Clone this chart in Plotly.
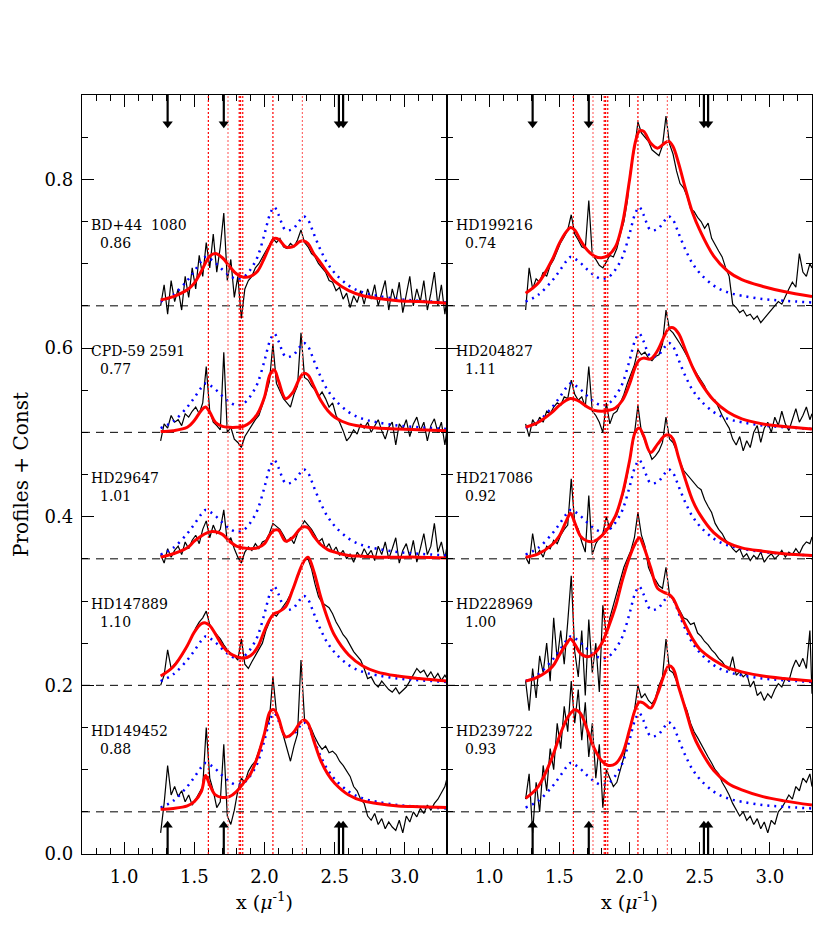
import plotly.graph_objects as go

# x grid of the smooth curves (inverse micron)
x_fit = [1.26, 1.35, 1.45, 1.50, 1.55, 1.58, 1.61, 1.65, 1.70, 1.75, 1.80,
         1.85, 1.90, 1.95, 2.00, 2.04, 2.07, 2.10, 2.15, 2.20, 2.25, 2.28,
         2.31, 2.35, 2.40, 2.45, 2.50, 2.60, 2.70, 2.80, 2.95, 3.10, 3.30]

# x grid of the observed profiles
x_obs = [1.260, 1.285, 1.310, 1.335, 1.360, 1.385, 1.410, 1.435, 1.460, 1.485,
         1.510, 1.535, 1.560, 1.585, 1.610, 1.635, 1.660, 1.685, 1.710, 1.735,
         1.760, 1.785, 1.810, 1.835, 1.860, 1.885, 1.910, 1.935, 1.960, 1.985,
         2.010, 2.035, 2.060, 2.085, 2.110, 2.135, 2.160, 2.185, 2.210, 2.235,
         2.260, 2.285, 2.310, 2.335, 2.360, 2.385, 2.410, 2.435, 2.460, 2.485,
         2.510, 2.535, 2.560, 2.585, 2.610, 2.635, 2.660, 2.685, 2.710, 2.735,
         2.760, 2.785, 2.810, 2.835, 2.860, 2.885, 2.910, 2.935, 2.960, 2.985,
         3.010, 3.035, 3.060, 3.085, 3.110, 3.135, 3.160, 3.185, 3.210, 3.235,
         3.260, 3.285, 3.300]

offsets = [0.65, 0.50, 0.35, 0.20, 0.05]

left_names = ["BD+44\u00a0 1080", "CPD-59 2591", "HD29647", "HD147889", "HD149452"]
left_values = ["0.86", "0.77", "1.01", "1.10", "0.88"]
right_names = ["HD199216", "HD204827", "HD217086", "HD228969", "HD239722"]
right_values = ["0.74", "1.11", "0.92", "1.00", "0.93"]

# blue dotted: mean profile, same in every box
avg_profile = [0.005, 0.013, 0.030, 0.041, 0.053, 0.058, 0.056, 0.051, 0.043, 0.036, 0.032,
               0.034, 0.043, 0.058, 0.085, 0.109, 0.117, 0.108, 0.090, 0.091, 0.101, 0.106,
               0.102, 0.086, 0.066, 0.050, 0.039, 0.024, 0.016, 0.012, 0.008, 0.006, 0.004]

# red fits
fit_bd44 = [0.007, 0.011, 0.019, 0.027, 0.041, 0.051, 0.059, 0.062, 0.057, 0.047, 0.038,
            0.034, 0.035, 0.041, 0.057, 0.072, 0.080, 0.079, 0.070, 0.070, 0.076, 0.077,
            0.074, 0.062, 0.051, 0.039, 0.029, 0.018, 0.012, 0.009, 0.006, 0.005, 0.003]
fit_cpd59 = [0.001, 0.002, 0.006, 0.014, 0.026, 0.030, 0.024, 0.012, 0.007, 0.006, 0.006,
             0.007, 0.012, 0.022, 0.042, 0.069, 0.074, 0.061, 0.040, 0.047, 0.064, 0.070,
             0.068, 0.055, 0.038, 0.026, 0.018, 0.010, 0.007, 0.005, 0.004, 0.003, 0.002]
fit_hd29647 = [0.002, 0.006, 0.013, 0.021, 0.027, 0.030, 0.032, 0.032, 0.029, 0.021, 0.015,
               0.013, 0.012, 0.013, 0.018, 0.029, 0.034, 0.034, 0.021, 0.025, 0.035, 0.038,
               0.037, 0.027, 0.017, 0.011, 0.008, 0.004, 0.003, 0.002, 0.002, 0.002, 0.001]
fit_hd147889 = [0.011, 0.022, 0.047, 0.063, 0.073, 0.074, 0.071, 0.061, 0.047, 0.038, 0.034,
                0.032, 0.035, 0.045, 0.065, 0.079, 0.085, 0.087, 0.093, 0.113, 0.136, 0.147,
                0.152, 0.136, 0.105, 0.079, 0.059, 0.036, 0.023, 0.016, 0.011, 0.008, 0.005]
fit_hd149452 = [0.003, 0.004, 0.007, 0.012, 0.024, 0.043, 0.032, 0.020, 0.017, 0.018, 0.024,
                0.034, 0.045, 0.065, 0.093, 0.119, 0.121, 0.111, 0.089, 0.093, 0.105, 0.109,
                0.105, 0.085, 0.061, 0.045, 0.034, 0.020, 0.013, 0.010, 0.007, 0.006, 0.005]
fit_hd199216 = [0.015, 0.027, 0.055, 0.074, 0.088, 0.093, 0.090, 0.078, 0.066, 0.059, 0.057,
                0.060, 0.070, 0.098, 0.149, 0.193, 0.207, 0.207, 0.193, 0.187, 0.193, 0.195,
                0.189, 0.169, 0.138, 0.110, 0.090, 0.059, 0.041, 0.031, 0.023, 0.017, 0.011]
fit_hd204827 = [0.006, 0.012, 0.024, 0.032, 0.038, 0.040, 0.039, 0.036, 0.030, 0.026, 0.025,
                0.026, 0.029, 0.038, 0.057, 0.077, 0.086, 0.088, 0.087, 0.097, 0.115, 0.123,
                0.124, 0.117, 0.097, 0.077, 0.061, 0.038, 0.024, 0.016, 0.010, 0.007, 0.004]
fit_hd217086 = [0.002, 0.006, 0.017, 0.027, 0.045, 0.054, 0.043, 0.027, 0.021, 0.021, 0.027,
                0.037, 0.051, 0.077, 0.116, 0.150, 0.155, 0.146, 0.126, 0.136, 0.146, 0.147,
                0.142, 0.120, 0.093, 0.069, 0.053, 0.031, 0.019, 0.013, 0.009, 0.006, 0.004]
fit_hd228969 = [0.005, 0.010, 0.022, 0.036, 0.049, 0.055, 0.049, 0.038, 0.034, 0.038, 0.049,
                0.069, 0.093, 0.125, 0.152, 0.168, 0.175, 0.165, 0.140, 0.115, 0.110, 0.108,
                0.103, 0.089, 0.071, 0.055, 0.043, 0.030, 0.021, 0.016, 0.011, 0.008, 0.005]
fit_hd239722 = [0.016, 0.030, 0.065, 0.089, 0.109, 0.117, 0.121, 0.117, 0.097, 0.075, 0.061,
                0.055, 0.057, 0.069, 0.097, 0.121, 0.130, 0.129, 0.123, 0.140, 0.164, 0.173,
                0.170, 0.148, 0.121, 0.093, 0.075, 0.049, 0.034, 0.026, 0.018, 0.013, 0.008]

# observed profiles (black)
obs_bd44 = [0.000, 0.025, -0.010, 0.030, 0.005, 0.020, -0.005, 0.035, 0.010, 0.045,
            0.020, 0.060, 0.035, 0.075, 0.045, 0.085, 0.040, 0.070, 0.110, 0.030,
            0.055, 0.010, 0.035, -0.015, 0.020, 0.030, 0.035, 0.045, 0.050, 0.058,
            0.065, 0.072, 0.080, 0.075, 0.080, 0.070, 0.068, 0.074, 0.070, 0.078,
            0.090, 0.075, 0.070, 0.062, 0.058, 0.050, 0.045, 0.040, 0.030, 0.028,
            0.018, 0.022, 0.008, 0.015, -0.002, 0.012, 0.004, 0.018, 0.002, 0.020,
            0.008, 0.025, 0.000, 0.015, 0.030, -0.005, 0.020, 0.005, 0.028, -0.008,
            0.015, 0.035, 0.000, 0.020, 0.005, 0.030, -0.005, 0.015, 0.040, 0.000,
            0.025, -0.010, 0.010]
obs_cpd59 = [-0.010, 0.010, 0.005, 0.020, 0.012, 0.015, 0.008, 0.022, 0.018, 0.025,
             0.030, 0.022, 0.035, 0.078, 0.025, 0.012, 0.008, 0.003, 0.095, 0.000,
             0.006, -0.008, -0.012, -0.018, -0.005, 0.002, 0.008, 0.015, 0.020, 0.032,
             0.045, 0.060, 0.105, 0.058, 0.048, 0.040, 0.035, 0.030, 0.045, 0.055,
             0.118, 0.065, 0.062, 0.055, 0.050, 0.042, 0.048, 0.040, 0.030, 0.035,
             0.020, 0.012, 0.002, -0.010, -0.005, 0.003, -0.002, 0.010, 0.005, 0.012,
             0.000, 0.008, 0.015, 0.002, -0.008, 0.006, 0.012, -0.015, 0.010, 0.004,
             0.015, -0.005, 0.010, 0.018, 0.002, 0.012, -0.010, 0.008, 0.016, 0.000,
             0.012, -0.015, 0.004]
obs_hd29647 = [0.005, -0.005, 0.012, 0.002, 0.010, 0.015, 0.005, 0.020, 0.012, 0.022,
               0.028, 0.018, 0.035, 0.045, 0.025, 0.040, 0.030, 0.035, 0.058, 0.020,
               0.025, 0.012, 0.002, -0.005, 0.008, 0.014, 0.010, 0.018, 0.012, 0.020,
               0.022, 0.030, 0.042, 0.038, 0.035, 0.028, 0.020, 0.025, 0.018, 0.030,
               0.038, 0.045, 0.040, 0.035, 0.028, 0.020, 0.024, 0.012, 0.018, 0.008,
               0.014, 0.004, 0.010, 0.000, 0.006, -0.004, 0.008, 0.002, 0.012, 0.004,
               0.010, -0.002, 0.015, 0.005, 0.020, 0.000, 0.012, 0.025, -0.005, 0.010,
               0.018, 0.002, 0.022, -0.004, 0.012, 0.030, 0.005, 0.015, 0.042, 0.008,
               0.020, 0.000, 0.015]
obs_hd147889 = [0.000, 0.012, 0.042, 0.020, 0.025, 0.030, 0.035, 0.042, 0.050, 0.058,
                0.068, 0.075, 0.080, 0.088, 0.072, 0.065, 0.060, 0.055, 0.048, 0.042,
                0.038, 0.035, 0.030, 0.055, 0.025, 0.020, 0.028, 0.035, 0.042, 0.050,
                0.065, 0.075, 0.085, 0.082, 0.088, 0.095, 0.100, 0.108, 0.118, 0.128,
                0.140, 0.148, 0.150, 0.138, 0.120, 0.105, 0.098, 0.095, 0.092, 0.085,
                0.075, 0.068, 0.060, 0.055, 0.048, 0.040, 0.035, 0.030, 0.020, 0.008,
                0.010, 0.002, -0.002, 0.005, 0.000, -0.005, -0.008, -0.003, -0.010, -0.006,
                -0.002, 0.005, 0.012, 0.020, 0.015, 0.018, 0.010, 0.016, 0.008, 0.014,
                0.006, 0.012, 0.008]
obs_hd149452 = [-0.025, 0.010, 0.055, 0.020, 0.030, 0.018, 0.025, 0.012, 0.020, 0.008,
                0.015, 0.022, 0.030, 0.100, 0.040, 0.025, 0.005, 0.012, 0.080, -0.005,
                -0.015, 0.002, 0.025, 0.040, 0.035, 0.048, 0.055, 0.060, 0.072, 0.085,
                0.098, 0.110, 0.160, 0.118, 0.105, 0.090, 0.075, 0.060, 0.078, 0.092,
                0.180, 0.110, 0.105, 0.098, 0.088, 0.080, 0.074, 0.078, 0.070, 0.072,
                0.068, 0.060, 0.055, 0.048, 0.042, 0.030, 0.025, 0.015, 0.010, -0.005,
                -0.010, -0.002, -0.015, -0.008, -0.020, -0.012, -0.018, -0.022, -0.010, -0.025,
                -0.005, -0.012, 0.000, -0.006, 0.004, -0.002, 0.008, 0.002, 0.010, 0.015,
                0.022, 0.030, 0.040]
obs_hd199216 = [-0.005, 0.045, 0.020, 0.032, 0.028, 0.040, 0.035, 0.048, 0.055, 0.065,
                0.075, 0.082, 0.090, 0.108, 0.085, 0.078, 0.070, 0.068, 0.125, 0.060,
                0.055, 0.048, 0.045, 0.052, 0.060, 0.058, 0.068, 0.085, 0.100, 0.125,
                0.165, 0.185, 0.218, 0.205, 0.200, 0.195, 0.185, 0.182, 0.178, 0.190,
                0.225, 0.192, 0.180, 0.160, 0.145, 0.140, 0.130, 0.115, 0.112, 0.105,
                0.100, 0.092, 0.098, 0.080, 0.072, 0.065, 0.058, 0.045, 0.035, 0.002,
                -0.002, -0.008, -0.005, -0.012, -0.010, -0.016, -0.012, -0.020, -0.015, -0.010,
                -0.004, 0.000, 0.005, 0.002, 0.012, 0.020, 0.028, 0.022, 0.062, 0.040,
                0.035, 0.050, 0.045]
obs_hd204827 = [0.010, -0.005, 0.015, 0.008, 0.018, 0.012, 0.025, 0.022, 0.030, 0.035,
                0.032, 0.042, 0.040, 0.062, 0.045, 0.038, 0.042, 0.030, 0.078, 0.025,
                0.020, 0.012, 0.000, 0.035, 0.010, 0.022, 0.025, 0.035, 0.045, 0.058,
                0.068, 0.080, 0.098, 0.092, 0.095, 0.088, 0.085, 0.090, 0.092, 0.105,
                0.145, 0.122, 0.118, 0.112, 0.105, 0.098, 0.090, 0.082, 0.075, 0.068,
                0.062, 0.055, 0.045, 0.040, 0.038, 0.028, 0.020, 0.012, 0.005, -0.008,
                -0.015, -0.005, -0.022, -0.010, -0.018, 0.000, 0.008, -0.012, 0.005, 0.012,
                0.000, 0.018, 0.008, 0.025, 0.010, 0.002, 0.015, 0.028, 0.012, 0.020,
                0.030, 0.015, 0.022]
obs_hd217086 = [0.002, -0.006, 0.030, 0.004, 0.010, 0.002, 0.015, 0.012, 0.022, 0.018,
                0.028, 0.035, 0.040, 0.095, 0.042, 0.035, 0.020, 0.008, 0.075, 0.005,
                0.018, 0.025, 0.030, 0.050, 0.035, 0.045, 0.052, 0.065, 0.080, 0.100,
                0.125, 0.148, 0.182, 0.150, 0.140, 0.128, 0.118, 0.122, 0.128, 0.138,
                0.168, 0.142, 0.138, 0.128, 0.115, 0.105, 0.100, 0.095, 0.090, 0.085,
                0.082, 0.070, 0.062, 0.055, 0.042, 0.035, 0.030, 0.022, 0.018, 0.012,
                0.008, 0.012, 0.002, 0.006, -0.002, 0.004, 0.000, 0.008, -0.004, 0.002,
                0.006, 0.000, 0.004, 0.010, 0.002, 0.008, 0.005, 0.012, 0.006, 0.015,
                0.020, 0.018, 0.026]
obs_hd228969 = [0.005, -0.030, 0.020, -0.015, 0.035, 0.015, 0.050, 0.005, 0.080, 0.030,
                0.065, 0.025, 0.075, 0.130, 0.040, 0.010, 0.065, -0.012, 0.078, 0.015,
                0.050, -0.008, 0.095, 0.060, 0.080, 0.095, 0.110, 0.125, 0.140, 0.150,
                0.160, 0.175, 0.205, 0.178, 0.165, 0.140, 0.130, 0.125, 0.118, 0.115,
                0.140, 0.108, 0.102, 0.095, 0.088, 0.080, 0.078, 0.072, 0.074, 0.062,
                0.058, 0.052, 0.048, 0.042, 0.038, 0.032, 0.028, 0.022, 0.018, 0.034,
                0.012, 0.016, 0.010, 0.014, -0.002, 0.005, -0.012, -0.008, -0.018, -0.010,
                -0.015, -0.005, 0.002, -0.002, 0.008, 0.005, 0.020, 0.030, 0.022, 0.032,
                0.020, 0.065, -0.010]
obs_hd239722 = [0.015, 0.045, -0.025, 0.035, 0.000, 0.055, 0.025, 0.075, 0.050, 0.105,
                0.075, 0.125, 0.095, 0.155, 0.105, 0.145, 0.085, 0.130, 0.065, 0.105,
                0.040, 0.080, 0.005, 0.050, 0.040, 0.030, 0.035, 0.050, 0.065, 0.085,
                0.105, 0.120, 0.150, 0.135, 0.140, 0.132, 0.128, 0.135, 0.150, 0.160,
                0.205, 0.168, 0.165, 0.155, 0.145, 0.130, 0.120, 0.105, 0.095, 0.088,
                0.080, 0.072, 0.065, 0.058, 0.050, 0.045, 0.035, 0.028, 0.020, 0.010,
                0.002, -0.005, 0.000, -0.010, -0.005, -0.015, -0.008, -0.020, -0.012, -0.025,
                -0.010, -0.015, 0.000, 0.005, 0.012, 0.020, 0.015, 0.030, 0.025, 0.040,
                0.035, 0.045, 0.030]

# band positions marked by vertical dotted lines, and arrows
band_x = [1.60, 1.82, 1.83, 1.845, 2.06]
band_x_light = [1.74, 2.27]
arrow_x = [1.31, 1.71, 2.53, 2.56]

left_fits = [fit_bd44, fit_cpd59, fit_hd29647, fit_hd147889, fit_hd149452]
left_obs = [obs_bd44, obs_cpd59, obs_hd29647, obs_hd147889, obs_hd149452]
right_fits = [fit_hd199216, fit_hd204827, fit_hd217086, fit_hd228969, fit_hd239722]
right_obs = [obs_hd199216, obs_hd204827, obs_hd217086, obs_hd228969, obs_hd239722]

SERIF = "DejaVu Serif"

fig = go.Figure()
shapes = []
annotations = []


def add_panel(xa, ya, obs_list, fit_list, names, values):
    for off, obs, fit, name, val in zip(offsets, obs_list, fit_list, names, values):
        shapes.append(dict(type="line", xref=xa, yref=ya, x0=0.7, x1=3.3, y0=off, y1=off,
                           line=dict(color="black", width=1, dash="8px,6px"), layer="below"))
        fig.add_trace(go.Scatter(x=x_obs, y=[v + off for v in obs], mode="lines",
                                 line=dict(color="black", width=1.2),
                                 xaxis=xa, yaxis=ya, showlegend=False))
        fig.add_trace(go.Scatter(x=x_fit, y=[v + off for v in avg_profile], mode="lines",
                                 line=dict(color="blue", width=2.5, dash="2px,5px",
                                           shape="spline", smoothing=1.0),
                                 xaxis=xa, yaxis=ya, showlegend=False))
        fig.add_trace(go.Scatter(x=x_fit, y=[v + off for v in fit], mode="lines",
                                 line=dict(color="red", width=3, shape="spline", smoothing=1.0),
                                 xaxis=xa, yaxis=ya, showlegend=False))
        # star name above, scale value below, touching at one y
        annotations.append(dict(x=0.757, y=off + 0.0855, xref=xa, yref=ya, text=name,
                                showarrow=False, xanchor="left", yanchor="bottom", borderpad=0,
                                font=dict(family=SERIF, size=14, color="black")))
        annotations.append(dict(x=0.822, y=off + 0.0855, xref=xa, yref=ya, text=val,
                                showarrow=False, xanchor="left", yanchor="top", borderpad=0,
                                font=dict(family=SERIF, size=14, color="black")))
    for bx in band_x:
        shapes.append(dict(type="line", xref=xa, yref=ya, x0=bx, x1=bx, y0=0, y1=0.9,
                           line=dict(color="red", width=1.2, dash="2px,2px"), layer="above"))
    for bx in band_x_light:
        shapes.append(dict(type="line", xref=xa, yref=ya, x0=bx, x1=bx, y0=0, y1=0.9,
                           line=dict(color="rgb(255,110,110)", width=1.2, dash="2px,2px"),
                           layer="above"))
    # arrows: shaft from the frame, filled head
    for axx in arrow_x:
        shapes.append(dict(type="line", xref=xa, yref=ya, x0=axx, x1=axx, y0=0.9, y1=0.868,
                           line=dict(color="black", width=2.2), layer="above"))
        shapes.append(dict(type="line", xref=xa, yref=ya, x0=axx, x1=axx, y0=0.0, y1=0.032,
                           line=dict(color="black", width=2.2), layer="above"))
    fig.add_trace(go.Scatter(x=arrow_x, y=[0.866] * len(arrow_x), mode="markers",
                             marker=dict(symbol="triangle-down", size=9, color="black"),
                             xaxis=xa, yaxis=ya, showlegend=False, cliponaxis=False))
    fig.add_trace(go.Scatter(x=arrow_x, y=[0.034] * len(arrow_x), mode="markers",
                             marker=dict(symbol="triangle-up", size=9, color="black"),
                             xaxis=xa, yaxis=ya, showlegend=False, cliponaxis=False))


add_panel("x", "y", left_obs, left_fits, left_names, left_values)
add_panel("x2", "y2", right_obs, right_fits, right_names, right_values)

x_common = dict(range=[0.7, 3.3], dtick=0.5, tick0=0, tickformat=".1f",
                ticks="inside", ticklen=12, tickwidth=1.2, tickcolor="black",
                minor=dict(dtick=0.1, ticklen=6, ticks="inside", tickcolor="black", tickwidth=1.2),
                showline=True, linecolor="black", linewidth=1.3, mirror="ticks",
                showgrid=False, zeroline=False, ticklabelstandoff=6,
                tickfont=dict(family=SERIF, size=18, color="black"),
                title=dict(text="x (<i>\u03bc</i><sup>-1</sup>)",
                           font=dict(family=SERIF, size=19, color="black"), standoff=9))
y_common = dict(range=[0, 0.9], dtick=0.2, tick0=0, tickformat=".1f",
                ticks="inside", ticklen=12, tickwidth=1.2, tickcolor="black",
                minor=dict(dtick=0.05, ticklen=6, ticks="inside", tickcolor="black", tickwidth=1.2),
                showline=True, linecolor="black", linewidth=1.3, mirror="ticks",
                showgrid=False, zeroline=False)

# the page body adds an 8 px margin, so the figure is a little smaller
fig.update_layout(
    width=822, height=941,
    margin=dict(l=74, r=18, t=87, b=95),
    paper_bgcolor="white", plot_bgcolor="white",
    xaxis=dict(domain=[0, 0.5], anchor="y", **x_common),
    xaxis2=dict(domain=[0.5, 1], anchor="y2", **x_common),
    yaxis=dict(anchor="x", ticklabelstandoff=4,
               tickfont=dict(family=SERIF, size=18, color="black"),
               title=dict(text="Profiles + Const",
                          font=dict(family=SERIF, size=20, color="black"), standoff=10),
               **y_common),
    yaxis2=dict(anchor="x2", matches="y", showticklabels=False, **y_common),
    shapes=shapes,
    annotations=annotations,
    showlegend=False,
)

fig.write_html("out.html")
